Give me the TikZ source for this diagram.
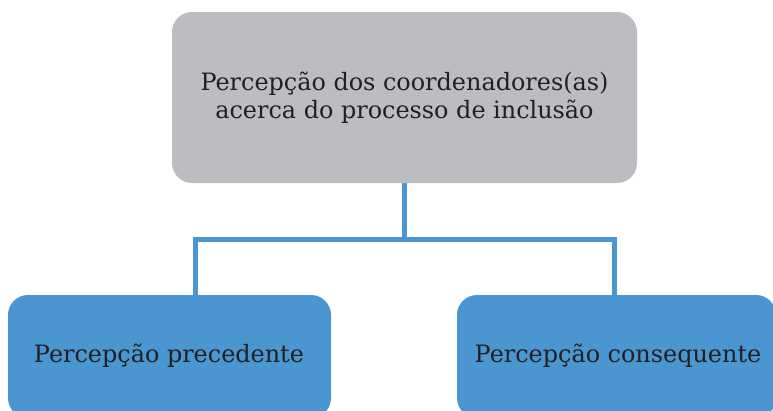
\documentclass[tikz,border=0pt]{standalone}
\usepackage{fontspec}
\setmainfont{DejaVu Serif}
\definecolor{boxgray}{HTML}{BCBDC1}
\definecolor{boxblue}{HTML}{4A96D0}
\definecolor{txt}{HTML}{231F20}
\begin{document}
\begin{tikzpicture}[x=1pt,y=-1pt,
  topbox/.style={fill=boxgray, rounded corners=20pt, inner sep=0pt, text=txt, align=center, font=\fontsize{23.9}{28.5}\selectfont},
  leafbox/.style={fill=boxblue, rounded corners=20pt, inner sep=0pt},
  leaftext/.style={text=txt, anchor=base, inner sep=0pt, font=\fontsize{23.9}{28.5}\selectfont},
  link/.style={draw=boxblue, line width=5pt, miter limit=10}]
\useasboundingbox (0,0) rectangle (773,410);
\clip (0,0) rectangle (773,410);
\node[topbox, minimum width=465pt, minimum height=171pt] (top) at (404.5,97.5) {Percepção dos coordenadores(as)\\acerca do processo de inclusão};
\node[leafbox, minimum width=323pt, minimum height=123pt] (left) at (169.5,356.5) {};
\node[leafbox, minimum width=319pt, minimum height=123pt] (right) at (616.5,356.5) {};
\node[leaftext] (lt) at (169,362) {Percepção precedente};
\node[leaftext] (rt) at (618,362) {Percepção consequente};
\coordinate (jl) at (195,239);
\coordinate (jr) at (614,239);
\path[link] (top.south) -- (top.south |- jl);
\path[link] (jl |- left.north) -- (jl) -- (jr) -- (jr |- right.north);
\end{tikzpicture}
\end{document}
